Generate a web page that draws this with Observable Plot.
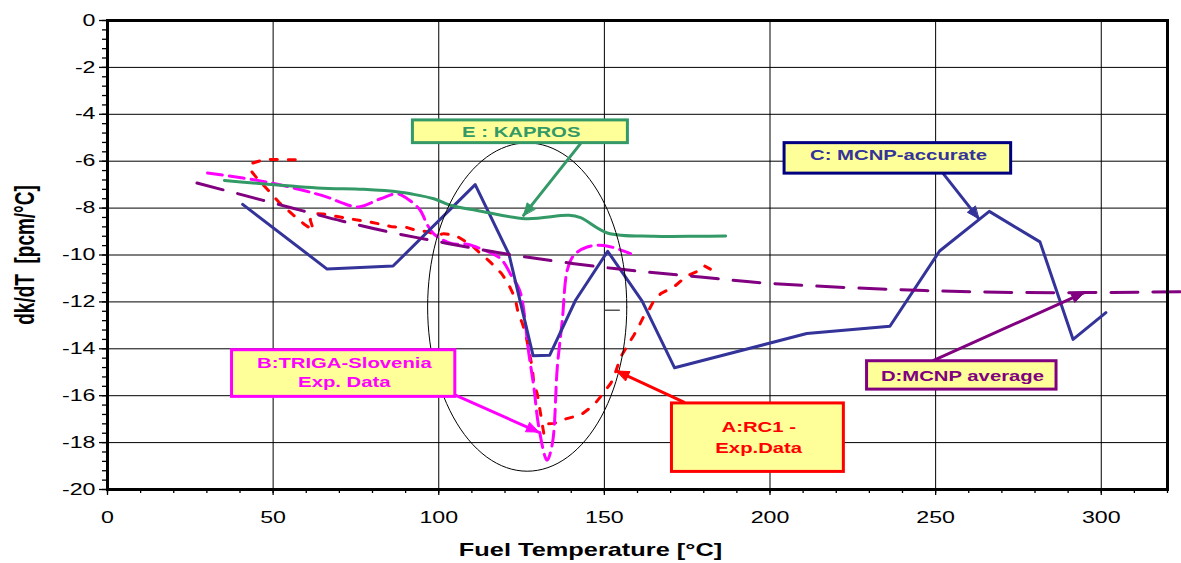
<!DOCTYPE html>
<html><head><meta charset="utf-8">
<script src="https://cdn.jsdelivr.net/npm/d3@7"></script>
<script src="https://cdn.jsdelivr.net/npm/@observablehq/plot@0.6"></script>
<style>body{margin:0;background:#fff}</style>
</head><body><div id="chart"></div>
<script>
// ---- Tick values ----
const xTicks = [0, 50, 100, 150, 200, 250, 300];
const yTicks = [0, -2, -4, -6, -8, -10, -12, -14, -16, -18, -20];
const xGrid = [50, 100, 150, 200, 250, 300];
const yGrid = [-2, -4, -6, -8, -10, -12, -14, -16, -18];
const xMinor = d3.range(0, 321, 10);
const yMinor = d3.range(0, 51).map(i => -i * 0.4);

// ---- A: RC1 - Exp. Data (red, dotted) ----
const aTemp = [56.7, 47.6, 43.1, 43.6, 46.1, 47.6, 51.7, 56.2, 59.5, 62.2, 61.2, 62, 65, 69, 71.3, 75, 78, 83, 86, 90.5, 92.5, 97, 99.5, 101.5, 105, 107.5, 110.5, 112.6, 115, 117, 119, 120.7, 122.2, 123.2, 124, 125.2, 126.2, 127.2, 128.2, 128.7, 129.7, 130.2, 131.2, 131.7, 133, 134.8, 138, 140.8, 142.8, 146.8, 148.8, 151.9, 152.9, 154.9, 158.9, 160.3, 161.8, 163.4, 165, 167, 169, 171, 174, 175.4, 178, 180, 182];
const aDk = [-5.94, -5.92, -6.11, -6.46, -6.89, -7.1, -7.74, -8.31, -8.7, -8.95, -8.5, -8.24, -8.25, -8.35, -8.41, -8.5, -8.56, -8.7, -8.8, -8.83, -8.92, -9.02, -9.16, -9.09, -9.16, -9.37, -9.66, -9.94, -10.23, -10.5, -10.8, -11.15, -11.58, -11.93, -12.5, -12.9, -13.35, -14.06, -14.77, -15.48, -15.9, -16.3, -17.17, -17.6, -17.2, -17.18, -17.0, -16.9, -16.83, -16.4, -16.05, -15.48, -15.2, -14.35, -13.42, -13.07, -12.64, -12.36, -11.93, -11.65, -11.5, -11.36, -11.0, -10.86, -10.7, -10.45, -10.6];

// ---- B: TRIGA-Slovenia Exp. Data (magenta, dashed) ----
const bTemp = [30.2, 48.1, 66.3, 70.8, 75.8, 82.4, 87.4, 90.5, 94.3, 96.5, 98.5, 104, 108.6, 112.6, 118.6, 122, 124.2, 125.2, 127.2, 128.7, 130.2, 132.7, 134.3, 135.8, 137.3, 138.8, 140.8, 144.8, 149.9, 157.9];
const bDk = [-6.5, -6.89, -7.53, -7.78, -7.95, -7.6, -7.39, -7.6, -8.07, -8.7, -9.1, -9.52, -9.54, -9.73, -10.15, -10.9, -11.43, -11.93, -14.2, -15.62, -17.33, -18.75, -18.04, -14.77, -12.78, -10.65, -10.01, -9.66, -9.59, -9.94];

// ---- C: MCNP-accurate (navy, solid) ----
const cTemp = [40.8, 66.3, 86.2, 111.0, 121.2, 128.5, 133.5, 141.3, 151.0, 161.4, 171.2, 211.1, 236.2, 251.2, 266.2, 281.5, 291.5, 301.4];
const cDk = [-7.84, -10.6, -10.47, -7.0, -9.97, -14.3, -14.27, -11.93, -9.84, -11.97, -14.81, -13.35, -13.04, -9.83, -8.14, -9.44, -13.6, -12.46];

// ---- D: MCNP average (purple, long dashes) ----
const dTemp = [27, 47, 59, 71, 85, 97.5, 110, 122.7, 153, 179, 198, 235.5, 274, 324];
const dDk = [-6.93, -7.67, -8.12, -8.56, -9.02, -9.37, -9.7, -10.01, -10.58, -10.94, -11.19, -11.46, -11.6, -11.57];

// ---- E: KAPROS (green, solid) ----
const eTemp = [35.3, 63.3, 77.3, 88.4, 91.5, 98.5, 103.5, 111.6, 126.2, 139.3, 142.8, 150.9, 165, 179, 186.6];
const eDk = [-6.82, -7.14, -7.2, -7.32, -7.39, -7.6, -7.88, -8.1, -8.45, -8.31, -8.41, -9.06, -9.2, -9.2, -9.19];

const toRows = (ts, ks) => ts.map((t, i) => ({t, k: ks[i]}));

// ---- Annotations (data coordinates) ----
const boxes = [
  {x1: 92.2, x2: 157.1, y1: -4.26, y2: -5.23, color: "#339966"},
  {x1: 204.4, x2: 272.8, y1: -5.23, y2: -6.53, color: "#000080"},
  {x1: 229.3, x2: 286.5, y1: -14.53, y2: -15.74, color: "#800080"},
  {x1: 37.6, x2: 105.0, y1: -14.06, y2: -16.05, color: "#FF00FF"},
  {x1: 170.4, x2: 222.3, y1: -16.33, y2: -19.25, color: "#FF0000"}
];
const labels = [
  {text: "E : KAPROS", x: 124.9, y: -4.76, color: "#339966"},
  {text: "C: MCNP-accurate", x: 238.8, y: -5.75, color: "#333399"},
  {text: "D:MCNP average", x: 258.1, y: -15.17, color: "#800080"},
  {text: "B:TRIGA-Slovenia", x: 71.5, y: -14.63, color: "#FF00FF"},
  {text: "Exp. Data", x: 71.5, y: -15.44, color: "#FF00FF"},
  {text: "A:RC1 -", x: 196.6, y: -17.36, color: "#FF0000"},
  {text: "Exp.Data", x: 196.6, y: -18.25, color: "#FF0000"}
];
const arrows = [
  {x1: 142.8, y1: -5.25, x2: 125.6, y2: -8.31, color: "#339966"},
  {x1: 252.3, y1: -6.53, x2: 263.0, y2: -8.45, color: "#333399"},
  {x1: 249.4, y1: -14.49, x2: 294.7, y2: -11.62, color: "#800080"},
  {x1: 105.0, y1: -15.98, x2: 130.1, y2: -17.55, color: "#FF00FF"},
  {x1: 174.0, y1: -16.27, x2: 153.8, y2: -14.95, color: "#FF0000"}
];
const ellipse = {cx: 126.7, cy: -12.22, rx: 30.06, ry: 7.0};
const ellipsePts = d3.range(0, 361, 3).map(a => {
  const r = a * Math.PI / 180;
  return {x: ellipse.cx + ellipse.rx * Math.cos(r), y: ellipse.cy + ellipse.ry * Math.sin(r)};
});

const font = "Liberation Sans, Arial, Helvetica, sans-serif";

// Filled triangular arrow heads (Excel style) added on top of the arrow shafts
function filledHeads(index, scales, values, dimensions, context, next) {
  const g = next(index, scales, values, dimensions, context);
  const {x1: X1, y1: Y1, x2: X2, y2: Y2} = values;
  const S = values.stroke;
  const L = 12, W = 5;
  for (const i of index) {
    const dx = X2[i] - X1[i], dy = Y2[i] - Y1[i];
    const len = Math.hypot(dx, dy) || 1;
    const ux = dx / len, uy = dy / len;
    const bx = X2[i] - ux * L, by = Y2[i] - uy * L;
    const p = document.createElementNS("http://www.w3.org/2000/svg", "polygon");
    p.setAttribute("points", `${X2[i]},${Y2[i]} ${bx - uy * W},${by + ux * W} ${bx + uy * W},${by - ux * W}`);
    const c = S ? S[i] : arrows[i].color;
    p.setAttribute("fill", c);
    p.setAttribute("stroke", c);
    p.setAttribute("stroke-width", "1");
    g.appendChild(p);
  }
  return g;
}

const chart = Plot.plot({
  width: 1181,
  height: 563,
  marginLeft: 107,
  marginRight: 14,
  marginTop: 20,
  marginBottom: 74,
  x: {domain: [0, 320]},
  y: {domain: [-20, 0]},
  color: {type: "identity"},
  style: {fontFamily: font, fontSize: "16px", color: "black", background: "white", overflow: "visible"},
  marks: [
    Plot.gridX(xGrid, {stroke: "black", strokeOpacity: 1, strokeWidth: 1}),
    Plot.gridY(yGrid, {stroke: "black", strokeOpacity: 1, strokeWidth: 1}),
    Plot.axisY(yTicks, {anchor: "left", tickSize: 8, tickPadding: 4, tickFormat: d => String(d), label: null, fontSize: 16, strokeWidth: 1.3}),
    Plot.axisY(yMinor, {anchor: "left", tickSize: 5, tickFormat: () => "", label: null, strokeWidth: 1.3}),
    Plot.axisX(xTicks, {anchor: "bottom", tickSize: 6, tickPadding: 16, tickFormat: d => String(d), label: null, fontSize: 16, strokeWidth: 1.3}),
    Plot.axisX(xMinor, {anchor: "bottom", tickSize: 4, tickFormat: () => "", label: null, strokeWidth: 1.3}),
    Plot.line(toRows(aTemp, aDk), {x: "t", y: "k", stroke: "#FF0000", strokeWidth: 3, strokeDasharray: "7,11"}),
    Plot.line(toRows(bTemp, bDk), {x: "t", y: "k", stroke: "#FF00FF", strokeWidth: 3, strokeDasharray: "15,7", curve: "catmull-rom"}),
    Plot.line(toRows(cTemp, cDk), {x: "t", y: "k", stroke: "#333399", strokeWidth: 3}),
    Plot.line(toRows(dTemp, dDk), {x: "t", y: "k", stroke: "#800080", strokeWidth: 3, strokeDasharray: "27,15", curve: "catmull-rom"}),
    Plot.line(toRows(eTemp, eDk), {x: "t", y: "k", stroke: "#339966", strokeWidth: 3, curve: "catmull-rom"}),
    Plot.line([{x: 150.3, y: -12.36}, {x: 154.5, y: -12.36}], {x: "x", y: "y", stroke: "#555", strokeWidth: 1.5}),
    Plot.line(ellipsePts, {x: "x", y: "y", stroke: "black", strokeWidth: 1}),
    Plot.arrow(arrows, {x1: "x1", y1: "y1", x2: "x2", y2: "y2", stroke: "color", strokeWidth: 3, headLength: 0, render: filledHeads}),
    Plot.rect(boxes, {x1: "x1", x2: "x2", y1: "y1", y2: "y2", fill: "#FFFF99", stroke: "color", strokeWidth: 3}),
    Plot.text(labels, {x: "x", y: "y", text: "text", fill: "color", fontWeight: "bold", fontSize: 14, fontFamily: font}),
    Plot.frame({stroke: "black", strokeWidth: 3}),
    Plot.text(["Fuel Temperature [°C]"], {frameAnchor: "bottom", textAnchor: "middle", lineAnchor: "middle", dx: -47, dy: 61, fontWeight: "bold", fontSize: 17.5, fill: "black"}),
    Plot.text(["dk/dT  [pcm/°C]"], {frameAnchor: "left", textAnchor: "middle", lineAnchor: "middle", rotate: -90, dx: -82, fontWeight: "bold", fontSize: 19, fill: "black"})
  ]
});

// Horizontal text stretch, as in the reference picture
const STRETCH = 1.45;
chart.querySelectorAll("text").forEach(t => {
  const tr = t.getAttribute("transform");
  if (tr && /translate\([^)]*\)/.test(tr)) {
    t.setAttribute("transform", tr.replace(/(translate\([^)]*\))/, `$1 scale(${STRETCH},1)`));
  } else {
    const x = +(t.getAttribute("x") || 0), y = +(t.getAttribute("y") || 0);
    t.removeAttribute("x"); t.removeAttribute("y");
    t.setAttribute("transform", `translate(${x},${y}) scale(${STRETCH},1)` + (tr ? " " + tr : ""));
  }
});
chart.querySelectorAll("text").forEach(t => t.style.whiteSpace = "pre");
document.getElementById("chart").appendChild(chart);
</script></body></html>
